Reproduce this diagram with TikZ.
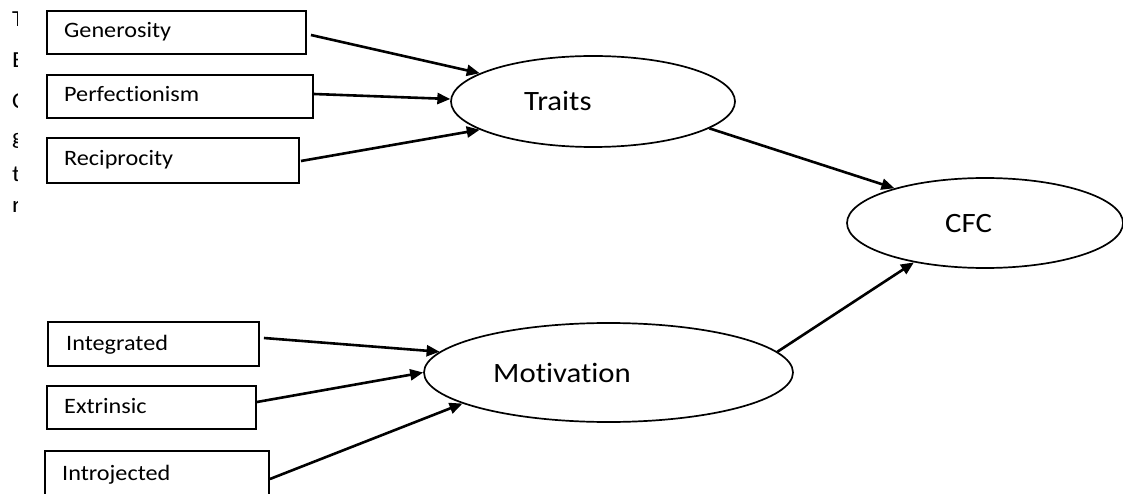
\documentclass[tikz,border=0pt]{standalone}
\usepackage{fontspec}
\setmainfont{Carlito}[FakeStretch=1.1,Ligatures={NoCommon}]
\usetikzlibrary{arrows.meta,shapes.geometric}
\begin{document}
\begin{tikzpicture}[x=1pt,y=1pt,
  box/.style={draw, line width=1.9pt, rectangle, inner sep=0pt, minimum height=43pt},
  oval/.style={draw, ellipse, line width=1.7pt, inner sep=0pt},
  lbl/.style={inner sep=0pt, anchor=base west, font=\fontsize{22}{26}\selectfont},
  olbl/.style={inner sep=0pt, anchor=base west, font=\fontsize{28}{32}\selectfont},
  bgl/.style={inner sep=0pt, anchor=base west, font=\fontsize{23}{26}\selectfont},
  arr/.style={-{Triangle[length=13pt,width=11pt]}, line width=2.6pt}]
\useasboundingbox (0,0) rectangle (1123,493);

% background text, clipped at the left edge
\begin{scope}
  \clip (0,0) rectangle (17,493);
  \node[bgl] (bg1) at (12,466) {T};
  \node[bgl] (bg2) at (12,425) {E};
  \node[bgl] (bg3) at (12,384) {C};
  \node[bgl] (bg4) at (12,348) {g};
  \node[bgl] (bg5) at (12,311) {t};
  \node[bgl] (bg6) at (12,280) {r};
\end{scope}

% boxes
\node[box, minimum width=259pt] (gen) at (176.5,460.5) {};
\node[box, minimum width=266pt] (perf) at (180,396.5) {};
\node[box, minimum width=252pt, minimum height=45pt] (rec) at (173,332.5) {};
\node[box, minimum width=211pt, minimum height=44pt] (int) at (153.5,149) {};
\node[box, minimum width=209pt] (ext) at (151.5,85.5) {};
\node[box, minimum width=224pt, minimum height=45pt] (intro) at (157,19.5) {};

\node[lbl] (genT) at (64,455) {Generosity};
\node[lbl] (perfT) at (64,391) {Perfectionism};
\node[lbl] (recT) at (64,327) {Reciprocity};
\node[lbl] (intT) at (66,143) {Integrated};
\node[lbl] (extT) at (64,80) {Extrinsic};
\node[lbl] (introT) at (62,13) {Introjected};

% ellipses
\node[oval, minimum width=284pt, minimum height=91pt] (traits) at (593,391.5) {};
\node[oval, minimum width=276pt, minimum height=90pt] (cfc) at (985,270) {};
\node[oval, minimum width=369pt, minimum height=99pt] (mot) at (608.5,120.5) {};

\node[olbl] (traitsT) at (524,382) {Traits};
\node[olbl] (cfcT) at (945,260) {CFC};
\node[olbl] (motT) at (493,111) {Motivation};

% connectors
\draw[arr] ([shift={(4pt,-2.5pt)}]gen.east) -- (traits.166.2);
\draw[arr] ([yshift=2.5pt]perf.east) -- (traits.179.4);
\draw[arr] ([shift={(1pt,-0.5pt)}]rec.east) -- (traits.194.5);
\draw[arr] (traits.347) -- (cfc.159.4);
\draw[arr] (mot.7.4) -- (cfc.209);
\draw[arr] ([shift={(4pt,6pt)}]int.east) -- (mot.173.5);
\draw[arr] ([yshift=5.5pt]ext.east) -- (mot.180.8);
\draw[arr] ([yshift=-5.5pt]intro.east) -- (mot.192.4);
\end{tikzpicture}
\end{document}
